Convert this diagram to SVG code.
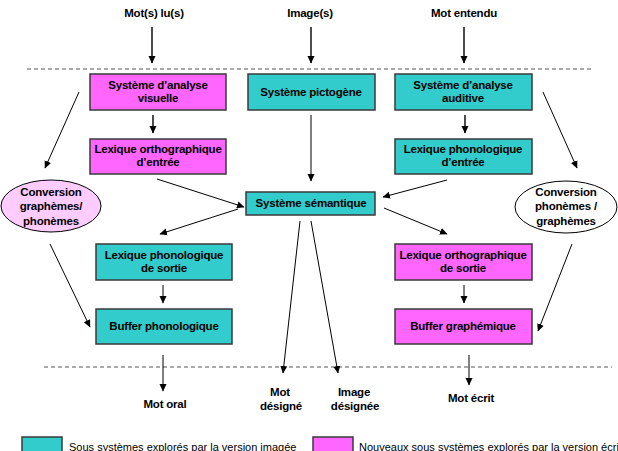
<svg xmlns="http://www.w3.org/2000/svg" width="618" height="451" viewBox="0 0 618 451">
<defs>
<marker id="ah" markerWidth="8" markerHeight="8" refX="7" refY="4" orient="auto" markerUnits="userSpaceOnUse">
<path d="M0,0.5 L7.5,4 L0,7.5 Z" fill="#000"/>
</marker>
<style>
.t{font-family:"Liberation Sans",Arial,sans-serif;font-weight:bold;font-size:11.5px;fill:#000;text-anchor:middle;letter-spacing:-0.2px}
.cy{fill:#33cccc;stroke:#3a3a3a;stroke-width:1.5}
.mg{fill:#ff66ff;stroke:#3a3a3a;stroke-width:1.5}
.c line{stroke:#000;stroke-width:1;marker-end:url(#ah)}
.c line.v{stroke-width:1.4}
.d{stroke:#555;stroke-width:1;stroke-dasharray:4 3}
.lg{font-family:"Liberation Sans",Arial,sans-serif;font-size:11px;fill:#000}
</style>
</defs>
<rect width="618" height="451" fill="#fff"/>
<g id="labels">
<text class="t" x="154" y="17">Mot(s) lu(s)</text>
<text class="t" x="310" y="17">Image(s)</text>
<text class="t" x="464" y="17">Mot entendu</text>
<text class="t" x="165" y="408">Mot oral</text>
<text class="t" x="280" y="396">Mot</text>
<text class="t" x="281" y="410">désigné</text>
<text class="t" x="354" y="396">Image</text>
<text class="t" x="355" y="410">désignée</text>
<text class="t" x="471" y="402">Mot écrit</text>
</g>
<line class="d" x1="27" y1="69" x2="594" y2="69"/>
<line class="d" x1="44" y1="367" x2="612" y2="367"/>
<g id="n-visuelle"><rect class="mg" x="90" y="74" width="136" height="36"/><text class="t" x="158" y="89">Système d’analyse</text><text class="t" x="158" y="102">visuelle</text></g>
<g id="n-pictogene"><rect class="cy" x="248" y="74" width="127" height="36"/><text class="t" x="311" y="96">Système pictogène</text></g>
<g id="n-auditive"><rect class="cy" x="395" y="74" width="137" height="36"/><text class="t" x="463" y="89">Système d’analyse</text><text class="t" x="463" y="102">auditive</text></g>
<g id="n-lex-ortho-entree"><rect class="mg" x="90" y="139" width="136" height="35"/><text class="t" x="158" y="153">Lexique orthographique</text><text class="t" x="158" y="166">d’entrée</text></g>
<g id="n-lex-phono-entree"><rect class="cy" x="395" y="139" width="137" height="35"/><text class="t" x="463" y="153">Lexique phonologique</text><text class="t" x="463" y="166">d’entrée</text></g>
<g id="n-semantique"><rect class="cy" x="246" y="192" width="129" height="23"/><text class="t" x="311" y="207">Système sémantique</text></g>
<g id="n-conv-gp"><ellipse cx="51" cy="206" rx="50" ry="26" fill="#ffccff" stroke="#000" stroke-width="1"/><text class="t" x="51" y="196">Conversion</text><text class="t" x="51" y="210">graphèmes/</text><text class="t" x="51" y="225">phonèmes</text></g>
<g id="n-conv-pg"><ellipse cx="566" cy="207" rx="51" ry="26" fill="#fff" stroke="#000" stroke-width="1"/><text class="t" x="566" y="196">Conversion</text><text class="t" x="566" y="210">phonèmes /</text><text class="t" x="566" y="225">graphèmes</text></g>
<g id="n-lex-phono-sortie"><rect class="cy" x="96" y="244" width="136" height="36"/><text class="t" x="164" y="259">Lexique phonologique</text><text class="t" x="164" y="272">de sortie</text></g>
<g id="n-lex-ortho-sortie"><rect class="mg" x="395" y="244" width="137" height="36"/><text class="t" x="463" y="259">Lexique orthographique</text><text class="t" x="463" y="272">de sortie</text></g>
<g id="n-buffer-phono"><rect class="cy" x="96" y="309" width="136" height="35"/><text class="t" x="164" y="330">Buffer phonologique</text></g>
<g id="n-buffer-graph"><rect class="mg" x="395" y="309" width="137" height="35"/><text class="t" x="463" y="330">Buffer graphémique</text></g>
<g id="connectors" class="c">
<line class="v" x1="152" y1="27" x2="152" y2="63"/>
<line class="v" x1="311" y1="27" x2="311" y2="63"/>
<line class="v" x1="464" y1="27" x2="464" y2="63"/>
<line class="v" x1="153" y1="115" x2="153" y2="133"/>
<line class="v" x1="465" y1="115" x2="465" y2="133"/>
<line x1="311" y1="115" x2="311" y2="181"/>
<line x1="79" y1="92" x2="45" y2="168"/>
<line x1="543" y1="92" x2="577" y2="168"/>
<line x1="157" y1="179" x2="244" y2="207"/>
<line x1="447" y1="180" x2="383" y2="197"/>
<line x1="238" y1="209" x2="160" y2="234"/>
<line x1="384" y1="208" x2="447" y2="234"/>
<line x1="163" y1="285" x2="163" y2="303"/>
<line x1="464" y1="285" x2="464" y2="303"/>
<line x1="50" y1="244" x2="90" y2="327"/>
<line x1="572" y1="244" x2="538" y2="331"/>
<line x1="300" y1="221" x2="283" y2="373"/>
<line x1="311" y1="221" x2="338" y2="373"/>
<line x1="163" y1="355" x2="163" y2="391"/>
<line x1="469" y1="355" x2="469" y2="385"/>
</g>
<g id="legend">
<rect class="cy" x="22" y="437" width="40" height="20"/>
<text class="lg" x="69" y="451">Sous systèmes explorés par la version imagée</text>
<rect class="mg" x="313" y="437" width="40" height="20"/>
<text class="lg" x="359" y="451">Nouveaux sous systèmes explorés par la version écrite</text>
</g>
</svg>
